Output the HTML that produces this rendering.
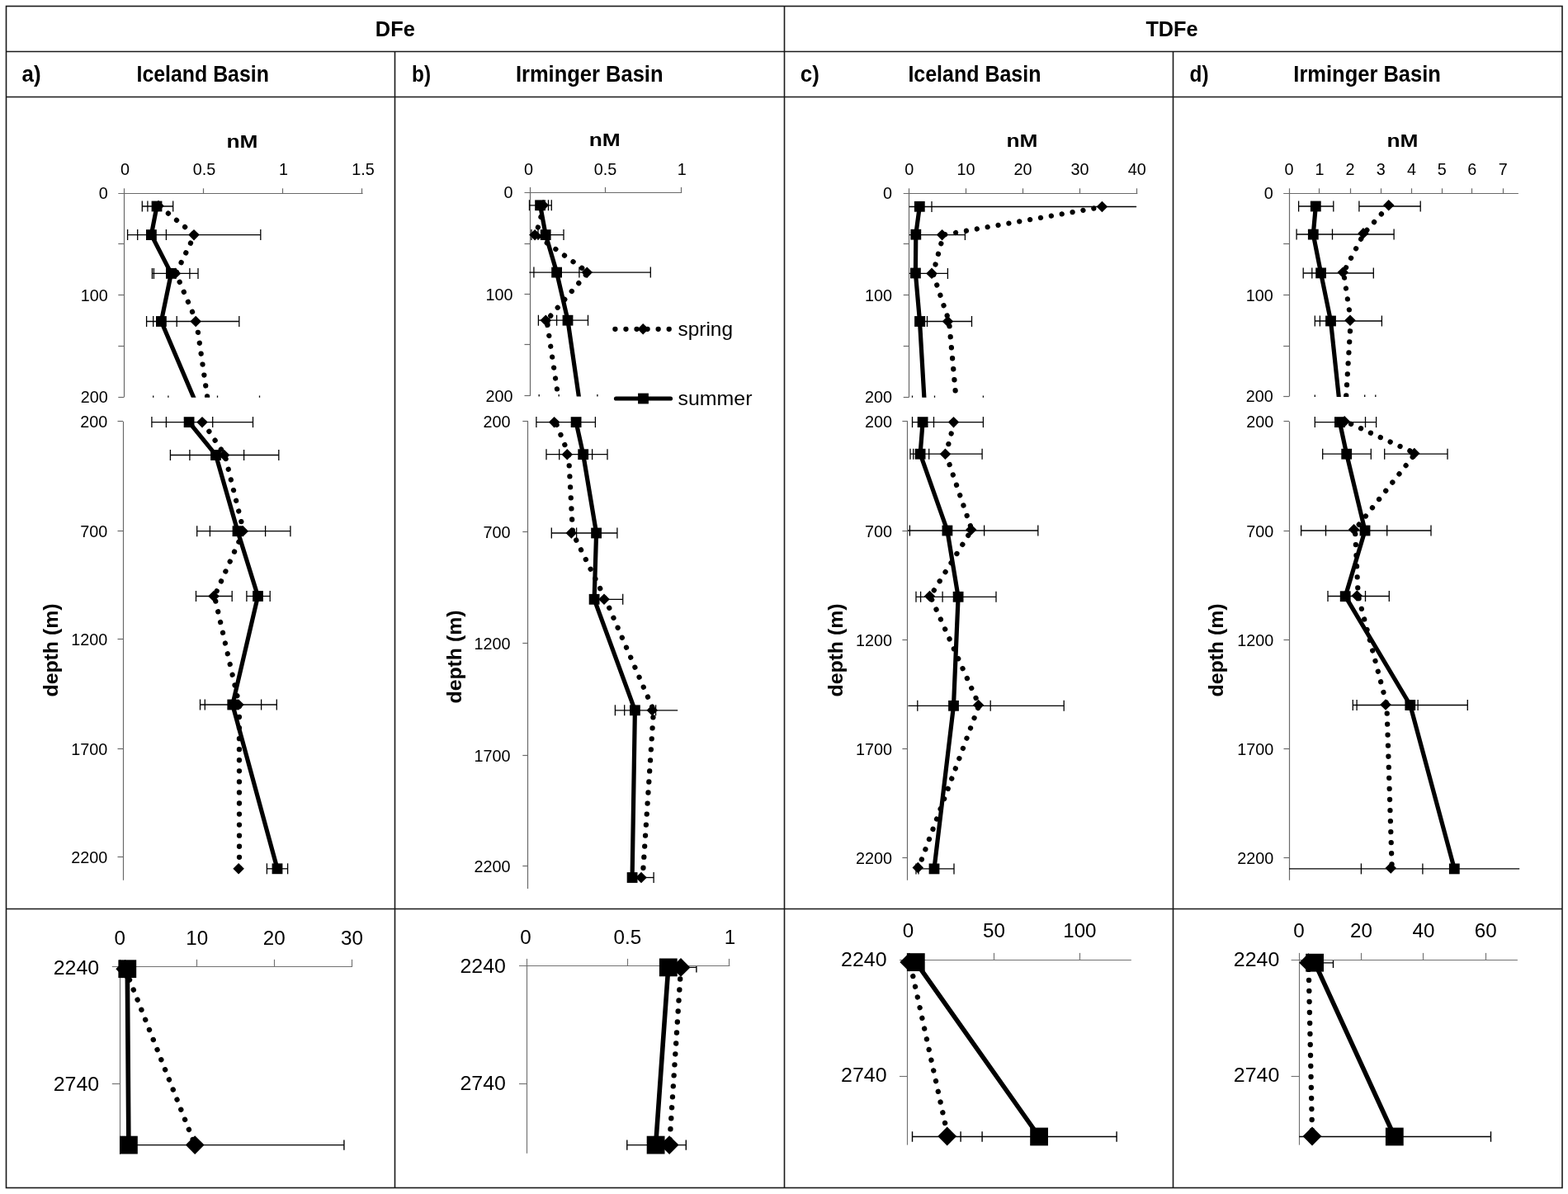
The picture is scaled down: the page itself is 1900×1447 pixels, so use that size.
<!DOCTYPE html>
<html lang="en">
<head>
<meta charset="utf-8">
<title>DFe and TDFe depth profiles</title>
<style>
html,body{margin:0;padding:0;background:#fff;}
body{width:1900px;height:1447px;overflow:hidden;}
svg{display:block;}
svg text{font-family:"Liberation Sans",sans-serif;fill:#000;}
</style>
</head>
<body>
<svg width="1900" height="1447" viewBox="0 0 1900 1447">
<rect x="0" y="0" width="1900" height="1447" fill="#fff"/>
<rect x="7.5" y="7.5" width="1885.5" height="1432.0" fill="none" stroke="#1a1a1a" stroke-width="1.6"/>
<line x1="7.5" y1="62.5" x2="1893.0" y2="62.5" stroke="#1a1a1a" stroke-width="1.6" />
<line x1="7.5" y1="117.5" x2="1893.0" y2="117.5" stroke="#1a1a1a" stroke-width="1.6" />
<line x1="7.5" y1="1101.5" x2="1893.0" y2="1101.5" stroke="#1a1a1a" stroke-width="1.6" />
<line x1="950.5" y1="7.5" x2="950.5" y2="1439.5" stroke="#1a1a1a" stroke-width="1.6" />
<line x1="478.5" y1="62.3" x2="478.5" y2="1439.5" stroke="#1a1a1a" stroke-width="1.6" />
<line x1="1421.5" y1="62.3" x2="1421.5" y2="1439.5" stroke="#1a1a1a" stroke-width="1.6" />
<text x="478.8" y="44.4" font-size="26.5" text-anchor="middle" font-weight="bold" textLength="48.0" lengthAdjust="spacingAndGlyphs" >DFe</text>
<text x="1420.0" y="44.4" font-size="26.5" text-anchor="middle" font-weight="bold" textLength="63.2" lengthAdjust="spacingAndGlyphs" >TDFe</text>
<text x="26.5" y="99.3" font-size="27.5" text-anchor="start" font-weight="bold" textLength="23.0" lengthAdjust="spacingAndGlyphs" >a)</text>
<text x="245.7" y="99.3" font-size="27.5" text-anchor="middle" font-weight="bold" textLength="160.4" lengthAdjust="spacingAndGlyphs" >Iceland Basin</text>
<text x="499.0" y="99.3" font-size="27.5" text-anchor="start" font-weight="bold" textLength="23.0" lengthAdjust="spacingAndGlyphs" >b)</text>
<text x="714.2" y="99.3" font-size="27.5" text-anchor="middle" font-weight="bold" textLength="178.6" lengthAdjust="spacingAndGlyphs" >Irminger Basin</text>
<text x="969.8" y="99.3" font-size="27.5" text-anchor="start" font-weight="bold" textLength="23.0" lengthAdjust="spacingAndGlyphs" >c)</text>
<text x="1180.9" y="99.3" font-size="27.5" text-anchor="middle" font-weight="bold" textLength="161.0" lengthAdjust="spacingAndGlyphs" >Iceland Basin</text>
<text x="1441.5" y="99.3" font-size="27.5" text-anchor="start" font-weight="bold" textLength="23.0" lengthAdjust="spacingAndGlyphs" >d)</text>
<text x="1656.6" y="99.3" font-size="27.5" text-anchor="middle" font-weight="bold" textLength="178.6" lengthAdjust="spacingAndGlyphs" >Irminger Basin</text>
<line x1="143.3" y1="234.5" x2="439.6" y2="234.5" stroke="#6a6a6a" stroke-width="1.2" />
<line x1="150.5" y1="228.3" x2="150.5" y2="481.2" stroke="#6a6a6a" stroke-width="1.2" />
<line x1="246.5" y1="228.3" x2="246.5" y2="234.6" stroke="#6a6a6a" stroke-width="1.2" />
<line x1="342.5" y1="228.3" x2="342.5" y2="234.6" stroke="#6a6a6a" stroke-width="1.2" />
<line x1="438.5" y1="228.3" x2="438.5" y2="234.6" stroke="#6a6a6a" stroke-width="1.2" />
<line x1="143.3" y1="295.5" x2="150.3" y2="295.5" stroke="#6a6a6a" stroke-width="1.2" />
<line x1="143.3" y1="357.5" x2="150.3" y2="357.5" stroke="#6a6a6a" stroke-width="1.2" />
<line x1="143.3" y1="419.5" x2="150.3" y2="419.5" stroke="#6a6a6a" stroke-width="1.2" />
<line x1="143.3" y1="481.5" x2="150.3" y2="481.5" stroke="#6a6a6a" stroke-width="1.2" />
<text x="151.4" y="212.0" font-size="19.8" text-anchor="middle" >0</text>
<text x="247.6" y="212.0" font-size="19.8" text-anchor="middle" >0.5</text>
<text x="343.6" y="212.0" font-size="19.8" text-anchor="middle" >1</text>
<text x="439.9" y="212.0" font-size="19.8" text-anchor="middle" >1.5</text>
<text x="130.8" y="240.5" font-size="19.8" text-anchor="end" >0</text>
<text x="130.8" y="364.8" font-size="19.8" text-anchor="end" >100</text>
<text x="130.8" y="488.1" font-size="19.8" text-anchor="end" >200</text>
<text x="293.5" y="178.5" font-size="22.8" text-anchor="middle" font-weight="bold" textLength="38.0" lengthAdjust="spacingAndGlyphs" >nM</text>
<clipPath id="c1"><rect x="148.3" y="234.6" width="291.3" height="247.2"/></clipPath>
<g clip-path="url(#c1)">
<line x1="172.3" y1="250.0" x2="209.7" y2="250.0" stroke="#000" stroke-width="1.3" />
<line x1="172.3" y1="243.5" x2="172.3" y2="256.5" stroke="#000" stroke-width="1.3" />
<line x1="178.9" y1="243.5" x2="178.9" y2="256.5" stroke="#000" stroke-width="1.3" />
<line x1="209.7" y1="243.5" x2="209.7" y2="256.5" stroke="#000" stroke-width="1.3" />
<line x1="154.6" y1="284.6" x2="315.8" y2="284.6" stroke="#000" stroke-width="1.3" />
<line x1="154.6" y1="278.1" x2="154.6" y2="291.1" stroke="#000" stroke-width="1.3" />
<line x1="166.7" y1="278.1" x2="166.7" y2="291.1" stroke="#000" stroke-width="1.3" />
<line x1="201.4" y1="278.1" x2="201.4" y2="291.1" stroke="#000" stroke-width="1.3" />
<line x1="315.8" y1="278.1" x2="315.8" y2="291.1" stroke="#000" stroke-width="1.3" />
<line x1="184.4" y1="331.4" x2="240.0" y2="331.4" stroke="#000" stroke-width="1.3" />
<line x1="184.4" y1="324.9" x2="184.4" y2="337.9" stroke="#000" stroke-width="1.3" />
<line x1="186.4" y1="324.9" x2="186.4" y2="337.9" stroke="#000" stroke-width="1.3" />
<line x1="229.9" y1="324.9" x2="229.9" y2="337.9" stroke="#000" stroke-width="1.3" />
<line x1="240.0" y1="324.9" x2="240.0" y2="337.9" stroke="#000" stroke-width="1.3" />
<line x1="177.6" y1="389.5" x2="289.8" y2="389.5" stroke="#000" stroke-width="1.3" />
<line x1="177.6" y1="383.0" x2="177.6" y2="396.0" stroke="#000" stroke-width="1.3" />
<line x1="185.7" y1="383.0" x2="185.7" y2="396.0" stroke="#000" stroke-width="1.3" />
<line x1="214.2" y1="383.0" x2="214.2" y2="396.0" stroke="#000" stroke-width="1.3" />
<line x1="289.8" y1="383.0" x2="289.8" y2="396.0" stroke="#000" stroke-width="1.3" />
<line x1="185.7" y1="479.4" x2="185.7" y2="484.2" stroke="#000" stroke-width="1.3" />
<line x1="203.9" y1="479.4" x2="203.9" y2="484.2" stroke="#000" stroke-width="1.3" />
<line x1="263.5" y1="479.4" x2="263.5" y2="484.2" stroke="#000" stroke-width="1.3" />
<line x1="314.5" y1="479.4" x2="314.5" y2="484.2" stroke="#000" stroke-width="1.3" />
<polyline points="192.8,249.5 235.8,284.6 213.2,331.4 238.0,389.5 251.6,484.0" fill="none" stroke="#000" stroke-width="6.3" stroke-linecap="round" stroke-linejoin="round" stroke-dasharray="0.01 13.05" stroke-dashoffset="-1.30"/>
<polyline points="190.0,250.0 183.4,284.6 207.4,331.4 195.4,389.5 235.6,484.0" fill="none" stroke="#000" stroke-width="5.2" stroke-linejoin="round" stroke-linecap="round"/>
<polygon points="185.2,249.5 192.0,242.8 198.8,249.5 192.0,256.2" fill="#000"/>
<polygon points="228.2,284.6 235.0,277.9 241.8,284.6 235.0,291.4" fill="#000"/>
<polygon points="205.7,331.4 212.4,324.6 219.2,331.4 212.4,338.1" fill="#000"/>
<polygon points="230.4,389.5 237.2,382.8 243.9,389.5 237.2,396.2" fill="#000"/>
<rect x="183.6" y="243.6" width="12.8" height="12.8" fill="#000"/>
<rect x="177.0" y="278.2" width="12.8" height="12.8" fill="#000"/>
<rect x="201.0" y="325.0" width="12.8" height="12.8" fill="#000"/>
<rect x="189.0" y="383.1" width="12.8" height="12.8" fill="#000"/>
</g>
<line x1="149.5" y1="510.8" x2="149.5" y2="1066.7" stroke="#6a6a6a" stroke-width="1.2" />
<line x1="142.5" y1="510.5" x2="149.0" y2="510.5" stroke="#6a6a6a" stroke-width="1.2" />
<text x="130.2" y="518.3" font-size="19.8" text-anchor="end" >200</text>
<line x1="142.5" y1="643.5" x2="149.0" y2="643.5" stroke="#6a6a6a" stroke-width="1.2" />
<text x="130.2" y="650.5" font-size="19.8" text-anchor="end" >700</text>
<line x1="142.5" y1="774.5" x2="149.0" y2="774.5" stroke="#6a6a6a" stroke-width="1.2" />
<text x="130.2" y="781.8" font-size="19.8" text-anchor="end" >1200</text>
<line x1="142.5" y1="907.5" x2="149.0" y2="907.5" stroke="#6a6a6a" stroke-width="1.2" />
<text x="130.2" y="914.5" font-size="19.8" text-anchor="end" >1700</text>
<line x1="142.5" y1="1038.5" x2="149.0" y2="1038.5" stroke="#6a6a6a" stroke-width="1.2" />
<text x="130.2" y="1046.0" font-size="19.8" text-anchor="end" >2200</text>
<line x1="183.9" y1="511.6" x2="306.5" y2="511.6" stroke="#000" stroke-width="1.3" />
<line x1="183.9" y1="505.1" x2="183.9" y2="518.1" stroke="#000" stroke-width="1.3" />
<line x1="201.4" y1="505.1" x2="201.4" y2="518.1" stroke="#000" stroke-width="1.3" />
<line x1="257.7" y1="505.1" x2="257.7" y2="518.1" stroke="#000" stroke-width="1.3" />
<line x1="306.5" y1="505.1" x2="306.5" y2="518.1" stroke="#000" stroke-width="1.3" />
<line x1="206.4" y1="551.5" x2="337.8" y2="551.5" stroke="#000" stroke-width="1.3" />
<line x1="206.4" y1="545.0" x2="206.4" y2="558.0" stroke="#000" stroke-width="1.3" />
<line x1="229.9" y1="545.0" x2="229.9" y2="558.0" stroke="#000" stroke-width="1.3" />
<line x1="295.6" y1="545.0" x2="295.6" y2="558.0" stroke="#000" stroke-width="1.3" />
<line x1="337.8" y1="545.0" x2="337.8" y2="558.0" stroke="#000" stroke-width="1.3" />
<line x1="238.7" y1="643.7" x2="351.9" y2="643.7" stroke="#000" stroke-width="1.3" />
<line x1="238.7" y1="637.2" x2="238.7" y2="650.2" stroke="#000" stroke-width="1.3" />
<line x1="254.4" y1="637.2" x2="254.4" y2="650.2" stroke="#000" stroke-width="1.3" />
<line x1="321.6" y1="637.2" x2="321.6" y2="650.2" stroke="#000" stroke-width="1.3" />
<line x1="351.9" y1="637.2" x2="351.9" y2="650.2" stroke="#000" stroke-width="1.3" />
<line x1="237.5" y1="722.5" x2="281.2" y2="722.5" stroke="#000" stroke-width="1.3" />
<line x1="237.5" y1="716.0" x2="237.5" y2="729.0" stroke="#000" stroke-width="1.3" />
<line x1="281.2" y1="716.0" x2="281.2" y2="729.0" stroke="#000" stroke-width="1.3" />
<line x1="298.9" y1="722.5" x2="327.2" y2="722.5" stroke="#000" stroke-width="1.3" />
<line x1="298.9" y1="716.0" x2="298.9" y2="729.0" stroke="#000" stroke-width="1.3" />
<line x1="327.2" y1="716.0" x2="327.2" y2="729.0" stroke="#000" stroke-width="1.3" />
<line x1="242.5" y1="854.0" x2="335.3" y2="854.0" stroke="#000" stroke-width="1.3" />
<line x1="242.5" y1="847.5" x2="242.5" y2="860.5" stroke="#000" stroke-width="1.3" />
<line x1="248.3" y1="847.5" x2="248.3" y2="860.5" stroke="#000" stroke-width="1.3" />
<line x1="316.6" y1="847.5" x2="316.6" y2="860.5" stroke="#000" stroke-width="1.3" />
<line x1="335.3" y1="847.5" x2="335.3" y2="860.5" stroke="#000" stroke-width="1.3" />
<line x1="323.4" y1="1052.8" x2="348.6" y2="1052.8" stroke="#000" stroke-width="1.3" />
<line x1="323.4" y1="1046.3" x2="323.4" y2="1059.3" stroke="#000" stroke-width="1.3" />
<line x1="348.6" y1="1046.3" x2="348.6" y2="1059.3" stroke="#000" stroke-width="1.3" />
<polyline points="245.9,511.6 272.5,551.5 295.2,643.7 259.9,722.5 289.9,854.0 290.0,1052.8" fill="none" stroke="#000" stroke-width="6.3" stroke-linecap="round" stroke-linejoin="round" stroke-dasharray="0.01 13.05" stroke-dashoffset="-0.40"/>
<polyline points="229.1,511.6 261.5,551.5 288.0,643.7 312.5,722.5 281.8,854.0 336.0,1052.8" fill="none" stroke="#000" stroke-width="5.2" stroke-linejoin="round" stroke-linecap="round"/>
<polygon points="238.2,511.6 245.0,504.9 251.8,511.6 245.0,518.4" fill="#000"/>
<polygon points="264.9,551.5 271.6,544.8 278.4,551.5 271.6,558.2" fill="#000"/>
<polygon points="287.6,643.7 294.3,637.0 301.1,643.7 294.3,650.5" fill="#000"/>
<polygon points="252.2,722.5 259.0,715.8 265.8,722.5 259.0,729.2" fill="#000"/>
<polygon points="282.2,854.0 289.0,847.2 295.8,854.0 289.0,860.8" fill="#000"/>
<polygon points="282.4,1052.8 289.1,1046.0 295.9,1052.8 289.1,1059.5" fill="#000"/>
<rect x="222.7" y="505.2" width="12.8" height="12.8" fill="#000"/>
<rect x="255.1" y="545.1" width="12.8" height="12.8" fill="#000"/>
<rect x="281.6" y="637.3" width="12.8" height="12.8" fill="#000"/>
<rect x="306.1" y="716.1" width="12.8" height="12.8" fill="#000"/>
<rect x="275.4" y="847.6" width="12.8" height="12.8" fill="#000"/>
<rect x="329.6" y="1046.4" width="12.8" height="12.8" fill="#000"/>
<text x="70.0" y="788.0" font-size="23.2" text-anchor="middle" font-weight="bold" textLength="113.0" lengthAdjust="spacingAndGlyphs" transform="rotate(-90 70.0 788.0)" >depth (m)</text>
<line x1="135.8" y1="1171.5" x2="427.0" y2="1171.5" stroke="#727272" stroke-width="1.15" />
<line x1="145.5" y1="1162.8" x2="145.5" y2="1399.0" stroke="#727272" stroke-width="1.15" />
<line x1="238.5" y1="1162.8" x2="238.5" y2="1171.8" stroke="#727272" stroke-width="1.15" />
<line x1="332.5" y1="1162.8" x2="332.5" y2="1171.8" stroke="#727272" stroke-width="1.15" />
<line x1="426.5" y1="1162.8" x2="426.5" y2="1171.8" stroke="#727272" stroke-width="1.15" />
<line x1="135.8" y1="1313.5" x2="145.3" y2="1313.5" stroke="#727272" stroke-width="1.15" />
<text x="145.3" y="1145.0" font-size="24.2" text-anchor="middle" >0</text>
<text x="238.7" y="1145.0" font-size="24.2" text-anchor="middle" >10</text>
<text x="332.2" y="1145.0" font-size="24.2" text-anchor="middle" >20</text>
<text x="426.5" y="1145.0" font-size="24.2" text-anchor="middle" >30</text>
<text x="120.2" y="1180.8" font-size="24.2" text-anchor="end" textLength="55.5" lengthAdjust="spacingAndGlyphs" >2240</text>
<text x="120.2" y="1322.1" font-size="24.2" text-anchor="end" textLength="55.5" lengthAdjust="spacingAndGlyphs" >2740</text>
<clipPath id="c2"><rect x="145.3" y="1171.8" width="291.7" height="247.2"/></clipPath>
<g clip-path="url(#c2)">
<line x1="155.9" y1="1387.6" x2="416.9" y2="1387.6" stroke="#000" stroke-width="1.4" />
<line x1="416.9" y1="1381.4" x2="416.9" y2="1393.8" stroke="#000" stroke-width="1.4" />
</g>
<polyline points="151.8,1174.3 236.3,1387.6" fill="none" stroke="#000" stroke-width="6.4" stroke-linecap="round" stroke-linejoin="round" stroke-dasharray="0.01 13" stroke-dashoffset="-1.15"/>
<polyline points="154.3,1174.2 155.9,1387.6" fill="none" stroke="#000" stroke-width="5.6" stroke-linejoin="round" stroke-linecap="round"/>
<polygon points="140.3,1174.3 151.7,1162.9 163.1,1174.3 151.7,1185.7" fill="#000"/>
<polygon points="224.8,1387.6 236.2,1376.2 247.6,1387.6 236.2,1399.0" fill="#000"/>
<rect x="143.4" y="1163.3" width="21.8" height="21.8" fill="#000"/>
<rect x="145.0" y="1376.7" width="21.8" height="21.8" fill="#000"/>
<line x1="635.5" y1="233.5" x2="826.2" y2="233.5" stroke="#6a6a6a" stroke-width="1.2" />
<line x1="642.5" y1="226.9" x2="642.5" y2="479.9" stroke="#6a6a6a" stroke-width="1.2" />
<line x1="733.5" y1="226.9" x2="733.5" y2="233.2" stroke="#6a6a6a" stroke-width="1.2" />
<line x1="825.5" y1="226.9" x2="825.5" y2="233.2" stroke="#6a6a6a" stroke-width="1.2" />
<line x1="635.5" y1="295.5" x2="642.5" y2="295.5" stroke="#6a6a6a" stroke-width="1.2" />
<line x1="635.5" y1="356.5" x2="642.5" y2="356.5" stroke="#6a6a6a" stroke-width="1.2" />
<line x1="635.5" y1="417.5" x2="642.5" y2="417.5" stroke="#6a6a6a" stroke-width="1.2" />
<line x1="635.5" y1="479.5" x2="642.5" y2="479.5" stroke="#6a6a6a" stroke-width="1.2" />
<text x="640.5" y="211.7" font-size="19.8" text-anchor="middle" >0</text>
<text x="733.5" y="211.7" font-size="19.8" text-anchor="middle" >0.5</text>
<text x="826.2" y="211.7" font-size="19.8" text-anchor="middle" >1</text>
<text x="621.5" y="239.7" font-size="19.8" text-anchor="end" >0</text>
<text x="621.5" y="363.5" font-size="19.8" text-anchor="end" >100</text>
<text x="621.5" y="486.8" font-size="19.8" text-anchor="end" >200</text>
<text x="732.7" y="177.3" font-size="22.8" text-anchor="middle" font-weight="bold" textLength="38.0" lengthAdjust="spacingAndGlyphs" >nM</text>
<clipPath id="c3"><rect x="640.5" y="233.2" width="185.7" height="247.3"/></clipPath>
<g clip-path="url(#c3)">
<line x1="641.3" y1="248.8" x2="668.3" y2="248.8" stroke="#000" stroke-width="1.3" />
<line x1="641.3" y1="242.3" x2="641.3" y2="255.3" stroke="#000" stroke-width="1.3" />
<line x1="664.5" y1="242.3" x2="664.5" y2="255.3" stroke="#000" stroke-width="1.3" />
<line x1="668.3" y1="242.3" x2="668.3" y2="255.3" stroke="#000" stroke-width="1.3" />
<line x1="641.5" y1="284.6" x2="683.0" y2="284.6" stroke="#000" stroke-width="1.3" />
<line x1="644.0" y1="278.1" x2="644.0" y2="291.1" stroke="#000" stroke-width="1.3" />
<line x1="652.0" y1="278.1" x2="652.0" y2="291.1" stroke="#000" stroke-width="1.3" />
<line x1="683.0" y1="278.1" x2="683.0" y2="291.1" stroke="#000" stroke-width="1.3" />
<line x1="641.3" y1="330.1" x2="788.3" y2="330.1" stroke="#000" stroke-width="1.3" />
<line x1="646.9" y1="323.6" x2="646.9" y2="336.6" stroke="#000" stroke-width="1.3" />
<line x1="701.9" y1="323.6" x2="701.9" y2="336.6" stroke="#000" stroke-width="1.3" />
<line x1="788.3" y1="323.6" x2="788.3" y2="336.6" stroke="#000" stroke-width="1.3" />
<line x1="652.4" y1="388.2" x2="712.5" y2="388.2" stroke="#000" stroke-width="1.3" />
<line x1="652.4" y1="381.7" x2="652.4" y2="394.7" stroke="#000" stroke-width="1.3" />
<line x1="665.8" y1="381.7" x2="665.8" y2="394.7" stroke="#000" stroke-width="1.3" />
<line x1="674.6" y1="381.7" x2="674.6" y2="394.7" stroke="#000" stroke-width="1.3" />
<line x1="712.5" y1="381.7" x2="712.5" y2="394.7" stroke="#000" stroke-width="1.3" />
<line x1="653.2" y1="478.1" x2="653.2" y2="482.9" stroke="#000" stroke-width="1.3" />
<line x1="677.2" y1="478.1" x2="677.2" y2="482.9" stroke="#000" stroke-width="1.3" />
<line x1="723.9" y1="478.1" x2="723.9" y2="482.9" stroke="#000" stroke-width="1.3" />
<polyline points="659.4,248.8 649.3,284.6 712.5,330.1 662.5,388.2 676.7,483.0" fill="none" stroke="#000" stroke-width="6.3" stroke-linecap="round" stroke-linejoin="round" stroke-dasharray="0.01 13.05" stroke-dashoffset="-1.60"/>
<polyline points="654.6,248.8 661.2,284.6 674.6,330.1 688.0,388.2 701.7,483.0" fill="none" stroke="#000" stroke-width="5.2" stroke-linejoin="round" stroke-linecap="round"/>
<polygon points="651.5,248.8 658.2,242.1 665.0,248.8 658.2,255.6" fill="#000"/>
<polygon points="641.4,284.6 648.1,277.9 654.9,284.6 648.1,291.4" fill="#000"/>
<polygon points="704.5,330.1 711.3,323.4 718.0,330.1 711.3,336.9" fill="#000"/>
<polygon points="654.5,388.2 661.3,381.4 668.0,388.2 661.3,394.9" fill="#000"/>
<rect x="648.2" y="242.4" width="12.8" height="12.8" fill="#000"/>
<rect x="654.8" y="278.2" width="12.8" height="12.8" fill="#000"/>
<rect x="668.2" y="323.7" width="12.8" height="12.8" fill="#000"/>
<rect x="681.6" y="381.8" width="12.8" height="12.8" fill="#000"/>
</g>
<line x1="639.5" y1="510.3" x2="639.5" y2="1076.9" stroke="#6a6a6a" stroke-width="1.2" />
<line x1="633.3" y1="510.5" x2="639.8" y2="510.5" stroke="#6a6a6a" stroke-width="1.2" />
<text x="618.5" y="517.8" font-size="19.8" text-anchor="end" >200</text>
<line x1="633.3" y1="644.5" x2="639.8" y2="644.5" stroke="#6a6a6a" stroke-width="1.2" />
<text x="618.5" y="652.2" font-size="19.8" text-anchor="end" >700</text>
<line x1="633.3" y1="779.5" x2="639.8" y2="779.5" stroke="#6a6a6a" stroke-width="1.2" />
<text x="618.5" y="787.4" font-size="19.8" text-anchor="end" >1200</text>
<line x1="633.3" y1="915.5" x2="639.8" y2="915.5" stroke="#6a6a6a" stroke-width="1.2" />
<text x="618.5" y="922.7" font-size="19.8" text-anchor="end" >1700</text>
<line x1="633.3" y1="1049.5" x2="639.8" y2="1049.5" stroke="#6a6a6a" stroke-width="1.2" />
<text x="618.5" y="1056.6" font-size="19.8" text-anchor="end" >2200</text>
<line x1="649.9" y1="511.6" x2="721.4" y2="511.6" stroke="#000" stroke-width="1.3" />
<line x1="649.9" y1="505.1" x2="649.9" y2="518.1" stroke="#000" stroke-width="1.3" />
<line x1="721.4" y1="505.1" x2="721.4" y2="518.1" stroke="#000" stroke-width="1.3" />
<line x1="662.0" y1="550.7" x2="736.0" y2="550.7" stroke="#000" stroke-width="1.3" />
<line x1="662.0" y1="544.2" x2="662.0" y2="557.2" stroke="#000" stroke-width="1.3" />
<line x1="677.7" y1="544.2" x2="677.7" y2="557.2" stroke="#000" stroke-width="1.3" />
<line x1="717.6" y1="544.2" x2="717.6" y2="557.2" stroke="#000" stroke-width="1.3" />
<line x1="736.0" y1="544.2" x2="736.0" y2="557.2" stroke="#000" stroke-width="1.3" />
<line x1="668.3" y1="646.0" x2="747.9" y2="646.0" stroke="#000" stroke-width="1.3" />
<line x1="668.3" y1="639.5" x2="668.3" y2="652.5" stroke="#000" stroke-width="1.3" />
<line x1="698.6" y1="639.5" x2="698.6" y2="652.5" stroke="#000" stroke-width="1.3" />
<line x1="747.9" y1="639.5" x2="747.9" y2="652.5" stroke="#000" stroke-width="1.3" />
<line x1="720.0" y1="726.3" x2="754.7" y2="726.3" stroke="#000" stroke-width="1.3" />
<line x1="754.7" y1="719.8" x2="754.7" y2="732.8" stroke="#000" stroke-width="1.3" />
<line x1="745.4" y1="860.8" x2="821.2" y2="860.8" stroke="#000" stroke-width="1.3" />
<line x1="745.4" y1="854.3" x2="745.4" y2="867.3" stroke="#000" stroke-width="1.3" />
<line x1="756.7" y1="854.3" x2="756.7" y2="867.3" stroke="#000" stroke-width="1.3" />
<line x1="794.6" y1="854.3" x2="794.6" y2="867.3" stroke="#000" stroke-width="1.3" />
<line x1="766.0" y1="1063.5" x2="792.1" y2="1063.5" stroke="#000" stroke-width="1.3" />
<line x1="792.1" y1="1057.0" x2="792.1" y2="1070.0" stroke="#000" stroke-width="1.3" />
<polyline points="673.3,511.6 689.0,550.7 694.0,646.0 733.7,726.3 792.0,860.8 778.7,1063.5" fill="none" stroke="#000" stroke-width="6.3" stroke-linecap="round" stroke-linejoin="round" stroke-dasharray="0.01 13.05" stroke-dashoffset="-3.50"/>
<polyline points="698.1,511.6 706.7,550.7 722.6,646.0 720.1,726.3 769.4,860.8 766.1,1063.5" fill="none" stroke="#000" stroke-width="5.2" stroke-linejoin="round" stroke-linecap="round"/>
<polygon points="664.9,511.6 671.6,504.9 678.4,511.6 671.6,518.4" fill="#000"/>
<polygon points="680.5,550.7 687.3,544.0 694.0,550.7 687.3,557.5" fill="#000"/>
<polygon points="685.5,646.0 692.3,639.2 699.0,646.0 692.3,652.8" fill="#000"/>
<polygon points="725.2,726.3 732.0,719.5 738.8,726.3 732.0,733.0" fill="#000"/>
<polygon points="783.5,860.8 790.3,854.0 797.0,860.8 790.3,867.5" fill="#000"/>
<polygon points="770.2,1063.5 777.0,1056.8 783.8,1063.5 777.0,1070.2" fill="#000"/>
<rect x="691.7" y="505.2" width="12.8" height="12.8" fill="#000"/>
<rect x="700.3" y="544.3" width="12.8" height="12.8" fill="#000"/>
<rect x="716.2" y="639.6" width="12.8" height="12.8" fill="#000"/>
<rect x="713.7" y="719.9" width="12.8" height="12.8" fill="#000"/>
<rect x="763.0" y="854.4" width="12.8" height="12.8" fill="#000"/>
<rect x="759.7" y="1057.1" width="12.8" height="12.8" fill="#000"/>
<text x="559.0" y="796.0" font-size="23.2" text-anchor="middle" font-weight="bold" textLength="113.0" lengthAdjust="spacingAndGlyphs" transform="rotate(-90 559.0 796.0)" >depth (m)</text>
<line x1="629.0" y1="1170.5" x2="884.3" y2="1170.5" stroke="#727272" stroke-width="1.15" />
<line x1="638.5" y1="1161.9" x2="638.5" y2="1397.8" stroke="#727272" stroke-width="1.15" />
<line x1="760.5" y1="1161.9" x2="760.5" y2="1170.9" stroke="#727272" stroke-width="1.15" />
<line x1="883.5" y1="1161.9" x2="883.5" y2="1170.9" stroke="#727272" stroke-width="1.15" />
<line x1="629.0" y1="1313.5" x2="638.5" y2="1313.5" stroke="#727272" stroke-width="1.15" />
<text x="637.0" y="1144.0" font-size="24.2" text-anchor="middle" >0</text>
<text x="760.3" y="1144.0" font-size="24.2" text-anchor="middle" >0.5</text>
<text x="884.5" y="1144.0" font-size="24.2" text-anchor="middle" >1</text>
<text x="613.0" y="1179.1" font-size="24.2" text-anchor="end" textLength="55.5" lengthAdjust="spacingAndGlyphs" >2240</text>
<text x="613.0" y="1321.3" font-size="24.2" text-anchor="end" textLength="55.5" lengthAdjust="spacingAndGlyphs" >2740</text>
<clipPath id="c4"><rect x="638.5" y="1170.9" width="255.8" height="246.9"/></clipPath>
<g clip-path="url(#c4)">
<line x1="825.0" y1="1172.4" x2="843.9" y2="1172.4" stroke="#000" stroke-width="1.4" />
<line x1="843.9" y1="1166.2" x2="843.9" y2="1178.6" stroke="#000" stroke-width="1.4" />
<line x1="759.8" y1="1387.6" x2="831.3" y2="1387.6" stroke="#000" stroke-width="1.4" />
<line x1="759.8" y1="1381.4" x2="759.8" y2="1393.8" stroke="#000" stroke-width="1.4" />
<line x1="831.3" y1="1381.4" x2="831.3" y2="1393.8" stroke="#000" stroke-width="1.4" />
</g>
<polyline points="825.1,1172.4 811.2,1387.6" fill="none" stroke="#000" stroke-width="6.4" stroke-linecap="round" stroke-linejoin="round" stroke-dasharray="0.01 13" stroke-dashoffset="-1.15"/>
<polyline points="809.8,1172.4 794.6,1387.6" fill="none" stroke="#000" stroke-width="5.6" stroke-linejoin="round" stroke-linecap="round"/>
<polygon points="813.6,1172.4 825.0,1161.0 836.4,1172.4 825.0,1183.8" fill="#000"/>
<polygon points="799.7,1387.6 811.1,1376.2 822.5,1387.6 811.1,1399.0" fill="#000"/>
<rect x="798.9" y="1161.5" width="21.8" height="21.8" fill="#000"/>
<rect x="783.7" y="1376.7" width="21.8" height="21.8" fill="#000"/>
<line x1="1094.7" y1="234.5" x2="1378.3" y2="234.5" stroke="#6a6a6a" stroke-width="1.2" />
<line x1="1101.5" y1="228.3" x2="1101.5" y2="481.2" stroke="#6a6a6a" stroke-width="1.2" />
<line x1="1170.5" y1="228.3" x2="1170.5" y2="234.6" stroke="#6a6a6a" stroke-width="1.2" />
<line x1="1239.5" y1="228.3" x2="1239.5" y2="234.6" stroke="#6a6a6a" stroke-width="1.2" />
<line x1="1308.5" y1="228.3" x2="1308.5" y2="234.6" stroke="#6a6a6a" stroke-width="1.2" />
<line x1="1377.5" y1="228.3" x2="1377.5" y2="234.6" stroke="#6a6a6a" stroke-width="1.2" />
<line x1="1094.7" y1="295.5" x2="1101.7" y2="295.5" stroke="#6a6a6a" stroke-width="1.2" />
<line x1="1094.7" y1="357.5" x2="1101.7" y2="357.5" stroke="#6a6a6a" stroke-width="1.2" />
<line x1="1094.7" y1="419.5" x2="1101.7" y2="419.5" stroke="#6a6a6a" stroke-width="1.2" />
<line x1="1094.7" y1="481.5" x2="1101.7" y2="481.5" stroke="#6a6a6a" stroke-width="1.2" />
<text x="1101.7" y="212.1" font-size="19.8" text-anchor="middle" >0</text>
<text x="1170.4" y="212.1" font-size="19.8" text-anchor="middle" >10</text>
<text x="1239.4" y="212.1" font-size="19.8" text-anchor="middle" >20</text>
<text x="1308.4" y="212.1" font-size="19.8" text-anchor="middle" >30</text>
<text x="1377.8" y="212.1" font-size="19.8" text-anchor="middle" >40</text>
<text x="1080.9" y="241.0" font-size="19.8" text-anchor="end" >0</text>
<text x="1080.9" y="364.8" font-size="19.8" text-anchor="end" >100</text>
<text x="1080.9" y="488.1" font-size="19.8" text-anchor="end" >200</text>
<text x="1238.5" y="177.9" font-size="22.8" text-anchor="middle" font-weight="bold" textLength="38.0" lengthAdjust="spacingAndGlyphs" >nM</text>
<clipPath id="c5"><rect x="1099.7" y="234.6" width="278.6" height="247.2"/></clipPath>
<g clip-path="url(#c5)">
<line x1="1101.7" y1="250.5" x2="1377.1" y2="250.5" stroke="#000" stroke-width="1.3" />
<line x1="1129.0" y1="244.0" x2="1129.0" y2="257.0" stroke="#000" stroke-width="1.3" />
<line x1="1101.7" y1="284.6" x2="1169.4" y2="284.6" stroke="#000" stroke-width="1.3" />
<line x1="1169.4" y1="278.1" x2="1169.4" y2="291.1" stroke="#000" stroke-width="1.3" />
<line x1="1101.7" y1="331.4" x2="1148.4" y2="331.4" stroke="#000" stroke-width="1.3" />
<line x1="1148.4" y1="324.9" x2="1148.4" y2="337.9" stroke="#000" stroke-width="1.3" />
<line x1="1110.0" y1="389.5" x2="1177.5" y2="389.5" stroke="#000" stroke-width="1.3" />
<line x1="1120.5" y1="383.0" x2="1120.5" y2="396.0" stroke="#000" stroke-width="1.3" />
<line x1="1123.5" y1="383.0" x2="1123.5" y2="396.0" stroke="#000" stroke-width="1.3" />
<line x1="1177.5" y1="383.0" x2="1177.5" y2="396.0" stroke="#000" stroke-width="1.3" />
<line x1="1105.5" y1="479.4" x2="1105.5" y2="484.2" stroke="#000" stroke-width="1.3" />
<line x1="1132.5" y1="479.4" x2="1132.5" y2="484.2" stroke="#000" stroke-width="1.3" />
<line x1="1191.4" y1="479.4" x2="1191.4" y2="484.2" stroke="#000" stroke-width="1.3" />
<polyline points="1337.0,250.5 1143.2,284.6 1130.6,331.4 1150.0,389.5 1158.6,484.0" fill="none" stroke="#000" stroke-width="6.3" stroke-linecap="round" stroke-linejoin="round" stroke-dasharray="0.01 13.05" stroke-dashoffset="1.20"/>
<polyline points="1114.3,250.3 1109.8,284.2 1109.4,331.0 1114.5,389.5 1120.0,484.0" fill="none" stroke="#000" stroke-width="5.2" stroke-linejoin="round" stroke-linecap="round"/>
<polygon points="1328.7,250.5 1335.4,243.8 1342.2,250.5 1335.4,257.2" fill="#000"/>
<polygon points="1134.8,284.6 1141.6,277.9 1148.3,284.6 1141.6,291.4" fill="#000"/>
<polygon points="1122.2,331.4 1129.0,324.6 1135.8,331.4 1129.0,338.1" fill="#000"/>
<polygon points="1141.7,389.5 1148.4,382.8 1155.2,389.5 1148.4,396.2" fill="#000"/>
<rect x="1107.9" y="243.9" width="12.8" height="12.8" fill="#000"/>
<rect x="1103.4" y="277.8" width="12.8" height="12.8" fill="#000"/>
<rect x="1103.0" y="324.6" width="12.8" height="12.8" fill="#000"/>
<rect x="1108.1" y="383.1" width="12.8" height="12.8" fill="#000"/>
</g>
<line x1="1099.5" y1="510.8" x2="1099.5" y2="1066.7" stroke="#6a6a6a" stroke-width="1.2" />
<line x1="1093.4" y1="510.5" x2="1099.9" y2="510.5" stroke="#6a6a6a" stroke-width="1.2" />
<text x="1081.1" y="518.3" font-size="19.8" text-anchor="end" >200</text>
<line x1="1093.4" y1="643.5" x2="1099.9" y2="643.5" stroke="#6a6a6a" stroke-width="1.2" />
<text x="1081.1" y="650.5" font-size="19.8" text-anchor="end" >700</text>
<line x1="1093.4" y1="775.5" x2="1099.9" y2="775.5" stroke="#6a6a6a" stroke-width="1.2" />
<text x="1081.1" y="782.6" font-size="19.8" text-anchor="end" >1200</text>
<line x1="1093.4" y1="907.5" x2="1099.9" y2="907.5" stroke="#6a6a6a" stroke-width="1.2" />
<text x="1081.1" y="914.6" font-size="19.8" text-anchor="end" >1700</text>
<line x1="1093.4" y1="1039.5" x2="1099.9" y2="1039.5" stroke="#6a6a6a" stroke-width="1.2" />
<text x="1081.1" y="1047.2" font-size="19.8" text-anchor="end" >2200</text>
<line x1="1105.5" y1="511.6" x2="1191.4" y2="511.6" stroke="#000" stroke-width="1.3" />
<line x1="1105.5" y1="505.1" x2="1105.5" y2="518.1" stroke="#000" stroke-width="1.3" />
<line x1="1131.5" y1="505.1" x2="1131.5" y2="518.1" stroke="#000" stroke-width="1.3" />
<line x1="1191.4" y1="505.1" x2="1191.4" y2="518.1" stroke="#000" stroke-width="1.3" />
<line x1="1103.0" y1="550.2" x2="1190.1" y2="550.2" stroke="#000" stroke-width="1.3" />
<line x1="1103.0" y1="543.7" x2="1103.0" y2="556.7" stroke="#000" stroke-width="1.3" />
<line x1="1106.7" y1="543.7" x2="1106.7" y2="556.7" stroke="#000" stroke-width="1.3" />
<line x1="1125.7" y1="543.7" x2="1125.7" y2="556.7" stroke="#000" stroke-width="1.3" />
<line x1="1190.1" y1="543.7" x2="1190.1" y2="556.7" stroke="#000" stroke-width="1.3" />
<line x1="1100.0" y1="643.0" x2="1257.8" y2="643.0" stroke="#000" stroke-width="1.3" />
<line x1="1102.4" y1="636.5" x2="1102.4" y2="649.5" stroke="#000" stroke-width="1.3" />
<line x1="1192.6" y1="636.5" x2="1192.6" y2="649.5" stroke="#000" stroke-width="1.3" />
<line x1="1257.8" y1="636.5" x2="1257.8" y2="649.5" stroke="#000" stroke-width="1.3" />
<line x1="1110.0" y1="723.3" x2="1207.0" y2="723.3" stroke="#000" stroke-width="1.3" />
<line x1="1110.0" y1="716.8" x2="1110.0" y2="729.8" stroke="#000" stroke-width="1.3" />
<line x1="1115.6" y1="716.8" x2="1115.6" y2="729.8" stroke="#000" stroke-width="1.3" />
<line x1="1142.1" y1="716.8" x2="1142.1" y2="729.8" stroke="#000" stroke-width="1.3" />
<line x1="1207.0" y1="716.8" x2="1207.0" y2="729.8" stroke="#000" stroke-width="1.3" />
<line x1="1100.4" y1="855.3" x2="1289.2" y2="855.3" stroke="#000" stroke-width="1.3" />
<line x1="1111.8" y1="848.8" x2="1111.8" y2="861.8" stroke="#000" stroke-width="1.3" />
<line x1="1200.2" y1="848.8" x2="1200.2" y2="861.8" stroke="#000" stroke-width="1.3" />
<line x1="1289.2" y1="848.8" x2="1289.2" y2="861.8" stroke="#000" stroke-width="1.3" />
<line x1="1110.0" y1="1052.9" x2="1156.0" y2="1052.9" stroke="#000" stroke-width="1.3" />
<line x1="1110.0" y1="1046.4" x2="1110.0" y2="1059.4" stroke="#000" stroke-width="1.3" />
<line x1="1113.0" y1="1046.4" x2="1113.0" y2="1059.4" stroke="#000" stroke-width="1.3" />
<line x1="1156.0" y1="1046.4" x2="1156.0" y2="1059.4" stroke="#000" stroke-width="1.3" />
<polyline points="1156.3,511.6 1146.2,550.2 1177.5,642.0 1127.3,722.5 1186.4,854.5 1113.1,1051.6" fill="none" stroke="#000" stroke-width="6.3" stroke-linecap="round" stroke-linejoin="round" stroke-dasharray="0.01 13.05" stroke-dashoffset="-1.30"/>
<polyline points="1118.1,511.6 1115.1,550.2 1147.9,643.0 1161.1,723.3 1155.5,855.3 1132.0,1052.9" fill="none" stroke="#000" stroke-width="5.2" stroke-linejoin="round" stroke-linecap="round"/>
<polygon points="1148.8,511.6 1155.5,504.9 1162.2,511.6 1155.5,518.4" fill="#000"/>
<polygon points="1138.7,550.2 1145.4,543.5 1152.2,550.2 1145.4,557.0" fill="#000"/>
<polygon points="1170.0,642.0 1176.7,635.2 1183.5,642.0 1176.7,648.8" fill="#000"/>
<polygon points="1119.8,722.5 1126.5,715.8 1133.2,722.5 1126.5,729.2" fill="#000"/>
<polygon points="1178.8,854.5 1185.6,847.8 1192.3,854.5 1185.6,861.2" fill="#000"/>
<polygon points="1105.5,1051.6 1112.3,1044.8 1119.0,1051.6 1112.3,1058.3" fill="#000"/>
<rect x="1111.7" y="505.2" width="12.8" height="12.8" fill="#000"/>
<rect x="1108.7" y="543.8" width="12.8" height="12.8" fill="#000"/>
<rect x="1141.5" y="636.6" width="12.8" height="12.8" fill="#000"/>
<rect x="1154.7" y="716.9" width="12.8" height="12.8" fill="#000"/>
<rect x="1149.1" y="848.9" width="12.8" height="12.8" fill="#000"/>
<rect x="1125.6" y="1046.5" width="12.8" height="12.8" fill="#000"/>
<text x="1021.0" y="788.0" font-size="23.2" text-anchor="middle" font-weight="bold" textLength="113.0" lengthAdjust="spacingAndGlyphs" transform="rotate(-90 1021.0 788.0)" >depth (m)</text>
<line x1="1090.0" y1="1163.5" x2="1370.8" y2="1163.5" stroke="#727272" stroke-width="1.15" />
<line x1="1099.5" y1="1154.9" x2="1099.5" y2="1387.6" stroke="#727272" stroke-width="1.15" />
<line x1="1204.5" y1="1154.9" x2="1204.5" y2="1163.9" stroke="#727272" stroke-width="1.15" />
<line x1="1308.5" y1="1154.9" x2="1308.5" y2="1163.9" stroke="#727272" stroke-width="1.15" />
<line x1="1090.0" y1="1304.5" x2="1099.5" y2="1304.5" stroke="#727272" stroke-width="1.15" />
<text x="1100.5" y="1135.6" font-size="24.2" text-anchor="middle" >0</text>
<text x="1204.5" y="1135.6" font-size="24.2" text-anchor="middle" >50</text>
<text x="1308.4" y="1135.6" font-size="24.2" text-anchor="middle" >100</text>
<text x="1074.6" y="1170.7" font-size="24.2" text-anchor="end" textLength="55.5" lengthAdjust="spacingAndGlyphs" >2240</text>
<text x="1074.6" y="1311.4" font-size="24.2" text-anchor="end" textLength="55.5" lengthAdjust="spacingAndGlyphs" >2740</text>
<clipPath id="c6"><rect x="1099.5" y="1163.9" width="281.3" height="243.7"/></clipPath>
<g clip-path="url(#c6)">
<line x1="1105.5" y1="1377.5" x2="1353.1" y2="1377.5" stroke="#000" stroke-width="1.4" />
<line x1="1105.5" y1="1371.3" x2="1105.5" y2="1383.7" stroke="#000" stroke-width="1.4" />
<line x1="1164.1" y1="1371.3" x2="1164.1" y2="1383.7" stroke="#000" stroke-width="1.4" />
<line x1="1190.1" y1="1371.3" x2="1190.1" y2="1383.7" stroke="#000" stroke-width="1.4" />
<line x1="1353.1" y1="1371.3" x2="1353.1" y2="1383.7" stroke="#000" stroke-width="1.4" />
</g>
<polyline points="1102.6,1166.1 1148.6,1377.0" fill="none" stroke="#000" stroke-width="6.4" stroke-linecap="round" stroke-linejoin="round" stroke-dasharray="0.01 13" stroke-dashoffset="-4.30"/>
<polyline points="1109.8,1166.1 1259.1,1377.5" fill="none" stroke="#000" stroke-width="5.6" stroke-linejoin="round" stroke-linecap="round"/>
<polygon points="1090.3,1166.1 1101.7,1154.7 1113.1,1166.1 1101.7,1177.5" fill="#000"/>
<polygon points="1136.3,1377.0 1147.7,1365.6 1159.1,1377.0 1147.7,1388.4" fill="#000"/>
<rect x="1098.9" y="1155.2" width="21.8" height="21.8" fill="#000"/>
<rect x="1248.2" y="1366.6" width="21.8" height="21.8" fill="#000"/>
<line x1="1555.2" y1="234.5" x2="1839.9" y2="234.5" stroke="#6a6a6a" stroke-width="1.2" />
<line x1="1562.5" y1="228.3" x2="1562.5" y2="480.4" stroke="#6a6a6a" stroke-width="1.2" />
<line x1="1598.5" y1="228.3" x2="1598.5" y2="234.6" stroke="#6a6a6a" stroke-width="1.2" />
<line x1="1636.5" y1="228.3" x2="1636.5" y2="234.6" stroke="#6a6a6a" stroke-width="1.2" />
<line x1="1673.5" y1="228.3" x2="1673.5" y2="234.6" stroke="#6a6a6a" stroke-width="1.2" />
<line x1="1710.5" y1="228.3" x2="1710.5" y2="234.6" stroke="#6a6a6a" stroke-width="1.2" />
<line x1="1747.5" y1="228.3" x2="1747.5" y2="234.6" stroke="#6a6a6a" stroke-width="1.2" />
<line x1="1783.5" y1="228.3" x2="1783.5" y2="234.6" stroke="#6a6a6a" stroke-width="1.2" />
<line x1="1821.5" y1="228.3" x2="1821.5" y2="234.6" stroke="#6a6a6a" stroke-width="1.2" />
<line x1="1555.2" y1="295.5" x2="1562.2" y2="295.5" stroke="#6a6a6a" stroke-width="1.2" />
<line x1="1555.2" y1="357.5" x2="1562.2" y2="357.5" stroke="#6a6a6a" stroke-width="1.2" />
<line x1="1555.2" y1="419.5" x2="1562.2" y2="419.5" stroke="#6a6a6a" stroke-width="1.2" />
<line x1="1555.2" y1="480.5" x2="1562.2" y2="480.5" stroke="#6a6a6a" stroke-width="1.2" />
<text x="1562.0" y="212.1" font-size="19.8" text-anchor="middle" >0</text>
<text x="1598.9" y="212.1" font-size="19.8" text-anchor="middle" >1</text>
<text x="1636.0" y="212.1" font-size="19.8" text-anchor="middle" >2</text>
<text x="1673.2" y="212.1" font-size="19.8" text-anchor="middle" >3</text>
<text x="1710.5" y="212.1" font-size="19.8" text-anchor="middle" >4</text>
<text x="1747.2" y="212.1" font-size="19.8" text-anchor="middle" >5</text>
<text x="1783.8" y="212.1" font-size="19.8" text-anchor="middle" >6</text>
<text x="1821.2" y="212.1" font-size="19.8" text-anchor="middle" >7</text>
<text x="1542.7" y="241.0" font-size="19.8" text-anchor="end" >0</text>
<text x="1542.7" y="364.8" font-size="19.8" text-anchor="end" >100</text>
<text x="1542.7" y="487.3" font-size="19.8" text-anchor="end" >200</text>
<text x="1699.5" y="177.9" font-size="22.8" text-anchor="middle" font-weight="bold" textLength="38.0" lengthAdjust="spacingAndGlyphs" >nM</text>
<clipPath id="c7"><rect x="1560.2" y="234.6" width="279.7" height="246.4"/></clipPath>
<g clip-path="url(#c7)">
<line x1="1573.6" y1="250.0" x2="1615.8" y2="250.0" stroke="#000" stroke-width="1.3" />
<line x1="1573.6" y1="243.5" x2="1573.6" y2="256.5" stroke="#000" stroke-width="1.3" />
<line x1="1615.8" y1="243.5" x2="1615.8" y2="256.5" stroke="#000" stroke-width="1.3" />
<line x1="1646.9" y1="250.0" x2="1721.2" y2="250.0" stroke="#000" stroke-width="1.3" />
<line x1="1646.9" y1="243.5" x2="1646.9" y2="256.5" stroke="#000" stroke-width="1.3" />
<line x1="1721.2" y1="243.5" x2="1721.2" y2="256.5" stroke="#000" stroke-width="1.3" />
<line x1="1571.1" y1="284.0" x2="1689.1" y2="284.0" stroke="#000" stroke-width="1.3" />
<line x1="1571.1" y1="277.5" x2="1571.1" y2="290.5" stroke="#000" stroke-width="1.3" />
<line x1="1614.5" y1="277.5" x2="1614.5" y2="290.5" stroke="#000" stroke-width="1.3" />
<line x1="1689.1" y1="277.5" x2="1689.1" y2="290.5" stroke="#000" stroke-width="1.3" />
<line x1="1579.2" y1="331.0" x2="1664.3" y2="331.0" stroke="#000" stroke-width="1.3" />
<line x1="1579.2" y1="324.5" x2="1579.2" y2="337.5" stroke="#000" stroke-width="1.3" />
<line x1="1589.8" y1="324.5" x2="1589.8" y2="337.5" stroke="#000" stroke-width="1.3" />
<line x1="1664.3" y1="324.5" x2="1664.3" y2="337.5" stroke="#000" stroke-width="1.3" />
<line x1="1593.3" y1="389.0" x2="1674.4" y2="389.0" stroke="#000" stroke-width="1.3" />
<line x1="1593.3" y1="382.5" x2="1593.3" y2="395.5" stroke="#000" stroke-width="1.3" />
<line x1="1599.4" y1="382.5" x2="1599.4" y2="395.5" stroke="#000" stroke-width="1.3" />
<line x1="1674.4" y1="382.5" x2="1674.4" y2="395.5" stroke="#000" stroke-width="1.3" />
<line x1="1593.3" y1="478.6" x2="1593.3" y2="483.4" stroke="#000" stroke-width="1.3" />
<line x1="1653.7" y1="478.6" x2="1653.7" y2="483.4" stroke="#000" stroke-width="1.3" />
<line x1="1666.8" y1="478.6" x2="1666.8" y2="483.4" stroke="#000" stroke-width="1.3" />
<polyline points="1683.5,248.8 1652.7,282.9 1628.0,330.1 1636.8,388.2 1631.0,483.0" fill="none" stroke="#000" stroke-width="6.3" stroke-linecap="round" stroke-linejoin="round" stroke-dasharray="0.01 13.05" stroke-dashoffset="-1.30"/>
<polyline points="1594.3,250.0 1591.3,284.1 1600.6,330.9 1612.5,389.0 1622.5,483.0" fill="none" stroke="#000" stroke-width="5.2" stroke-linejoin="round" stroke-linecap="round"/>
<polygon points="1676.0,248.8 1682.7,242.1 1689.5,248.8 1682.7,255.6" fill="#000"/>
<polygon points="1645.2,282.9 1651.9,276.1 1658.7,282.9 1651.9,289.6" fill="#000"/>
<polygon points="1620.5,330.1 1627.2,323.4 1634.0,330.1 1627.2,336.9" fill="#000"/>
<polygon points="1629.2,388.2 1636.0,381.4 1642.8,388.2 1636.0,394.9" fill="#000"/>
<rect x="1587.9" y="243.6" width="12.8" height="12.8" fill="#000"/>
<rect x="1584.9" y="277.7" width="12.8" height="12.8" fill="#000"/>
<rect x="1594.2" y="324.5" width="12.8" height="12.8" fill="#000"/>
<rect x="1606.1" y="382.6" width="12.8" height="12.8" fill="#000"/>
</g>
<line x1="1562.5" y1="510.8" x2="1562.5" y2="1066.7" stroke="#6a6a6a" stroke-width="1.2" />
<line x1="1555.5" y1="510.5" x2="1562.0" y2="510.5" stroke="#6a6a6a" stroke-width="1.2" />
<text x="1543.2" y="518.3" font-size="19.8" text-anchor="end" >200</text>
<line x1="1555.5" y1="643.5" x2="1562.0" y2="643.5" stroke="#6a6a6a" stroke-width="1.2" />
<text x="1543.2" y="650.5" font-size="19.8" text-anchor="end" >700</text>
<line x1="1555.5" y1="775.5" x2="1562.0" y2="775.5" stroke="#6a6a6a" stroke-width="1.2" />
<text x="1543.2" y="782.6" font-size="19.8" text-anchor="end" >1200</text>
<line x1="1555.5" y1="907.5" x2="1562.0" y2="907.5" stroke="#6a6a6a" stroke-width="1.2" />
<text x="1543.2" y="914.6" font-size="19.8" text-anchor="end" >1700</text>
<line x1="1555.5" y1="1039.5" x2="1562.0" y2="1039.5" stroke="#6a6a6a" stroke-width="1.2" />
<text x="1543.2" y="1047.2" font-size="19.8" text-anchor="end" >2200</text>
<line x1="1593.3" y1="511.6" x2="1667.6" y2="511.6" stroke="#000" stroke-width="1.3" />
<line x1="1593.3" y1="505.1" x2="1593.3" y2="518.1" stroke="#000" stroke-width="1.3" />
<line x1="1654.5" y1="505.1" x2="1654.5" y2="518.1" stroke="#000" stroke-width="1.3" />
<line x1="1667.6" y1="505.1" x2="1667.6" y2="518.1" stroke="#000" stroke-width="1.3" />
<line x1="1602.7" y1="550.2" x2="1661.3" y2="550.2" stroke="#000" stroke-width="1.3" />
<line x1="1602.7" y1="543.7" x2="1602.7" y2="556.7" stroke="#000" stroke-width="1.3" />
<line x1="1661.3" y1="543.7" x2="1661.3" y2="556.7" stroke="#000" stroke-width="1.3" />
<line x1="1677.7" y1="550.2" x2="1754.0" y2="550.2" stroke="#000" stroke-width="1.3" />
<line x1="1677.7" y1="543.7" x2="1677.7" y2="556.7" stroke="#000" stroke-width="1.3" />
<line x1="1754.0" y1="543.7" x2="1754.0" y2="556.7" stroke="#000" stroke-width="1.3" />
<line x1="1576.6" y1="643.0" x2="1734.0" y2="643.0" stroke="#000" stroke-width="1.3" />
<line x1="1576.6" y1="636.5" x2="1576.6" y2="649.5" stroke="#000" stroke-width="1.3" />
<line x1="1606.5" y1="636.5" x2="1606.5" y2="649.5" stroke="#000" stroke-width="1.3" />
<line x1="1680.7" y1="636.5" x2="1680.7" y2="649.5" stroke="#000" stroke-width="1.3" />
<line x1="1734.0" y1="636.5" x2="1734.0" y2="649.5" stroke="#000" stroke-width="1.3" />
<line x1="1609.0" y1="722.5" x2="1683.3" y2="722.5" stroke="#000" stroke-width="1.3" />
<line x1="1609.0" y1="716.0" x2="1609.0" y2="729.0" stroke="#000" stroke-width="1.3" />
<line x1="1654.5" y1="716.0" x2="1654.5" y2="729.0" stroke="#000" stroke-width="1.3" />
<line x1="1683.3" y1="716.0" x2="1683.3" y2="729.0" stroke="#000" stroke-width="1.3" />
<line x1="1639.3" y1="854.5" x2="1778.3" y2="854.5" stroke="#000" stroke-width="1.3" />
<line x1="1639.3" y1="848.0" x2="1639.3" y2="861.0" stroke="#000" stroke-width="1.3" />
<line x1="1644.1" y1="848.0" x2="1644.1" y2="861.0" stroke="#000" stroke-width="1.3" />
<line x1="1718.1" y1="848.0" x2="1718.1" y2="861.0" stroke="#000" stroke-width="1.3" />
<line x1="1778.3" y1="848.0" x2="1778.3" y2="861.0" stroke="#000" stroke-width="1.3" />
<line x1="1562.0" y1="1052.9" x2="1841.2" y2="1052.9" stroke="#000" stroke-width="1.3" />
<line x1="1649.4" y1="1046.4" x2="1649.4" y2="1059.4" stroke="#000" stroke-width="1.3" />
<line x1="1723.9" y1="1046.4" x2="1723.9" y2="1059.4" stroke="#000" stroke-width="1.3" />
<polyline points="1630.6,510.8 1715.2,549.5 1642.0,641.7 1645.7,722.0 1680.4,854.0 1686.7,1052.1" fill="none" stroke="#000" stroke-width="6.3" stroke-linecap="round" stroke-linejoin="round" stroke-dasharray="0.01 13.05" stroke-dashoffset="-7.20"/>
<polyline points="1623.4,511.6 1631.7,550.2 1654.0,643.0 1630.2,722.7 1708.8,854.5 1762.3,1052.9" fill="none" stroke="#000" stroke-width="5.2" stroke-linejoin="round" stroke-linecap="round"/>
<polygon points="1622.5,510.8 1629.2,504.1 1636.0,510.8 1629.2,517.5" fill="#000"/>
<polygon points="1707.0,549.5 1713.8,542.8 1720.5,549.5 1713.8,556.2" fill="#000"/>
<polygon points="1633.8,641.7 1640.6,635.0 1647.3,641.7 1640.6,648.5" fill="#000"/>
<polygon points="1637.5,722.0 1644.3,715.2 1651.0,722.0 1644.3,728.8" fill="#000"/>
<polygon points="1672.2,854.0 1679.0,847.2 1685.8,854.0 1679.0,860.8" fill="#000"/>
<polygon points="1678.5,1052.1 1685.3,1045.3 1692.0,1052.1 1685.3,1058.8" fill="#000"/>
<rect x="1617.0" y="505.2" width="12.8" height="12.8" fill="#000"/>
<rect x="1625.3" y="543.8" width="12.8" height="12.8" fill="#000"/>
<rect x="1647.6" y="636.6" width="12.8" height="12.8" fill="#000"/>
<rect x="1623.8" y="716.3" width="12.8" height="12.8" fill="#000"/>
<rect x="1702.4" y="848.1" width="12.8" height="12.8" fill="#000"/>
<rect x="1755.9" y="1046.5" width="12.8" height="12.8" fill="#000"/>
<text x="1482.0" y="788.0" font-size="23.2" text-anchor="middle" font-weight="bold" textLength="113.0" lengthAdjust="spacingAndGlyphs" transform="rotate(-90 1482.0 788.0)" >depth (m)</text>
<line x1="1564.6" y1="1163.5" x2="1838.9" y2="1163.5" stroke="#727272" stroke-width="1.15" />
<line x1="1574.5" y1="1154.9" x2="1574.5" y2="1387.6" stroke="#727272" stroke-width="1.15" />
<line x1="1649.5" y1="1154.9" x2="1649.5" y2="1163.9" stroke="#727272" stroke-width="1.15" />
<line x1="1724.5" y1="1154.9" x2="1724.5" y2="1163.9" stroke="#727272" stroke-width="1.15" />
<line x1="1800.5" y1="1154.9" x2="1800.5" y2="1163.9" stroke="#727272" stroke-width="1.15" />
<line x1="1564.6" y1="1304.5" x2="1574.1" y2="1304.5" stroke="#727272" stroke-width="1.15" />
<text x="1574.1" y="1135.6" font-size="24.2" text-anchor="middle" >0</text>
<text x="1649.4" y="1135.6" font-size="24.2" text-anchor="middle" >20</text>
<text x="1724.9" y="1135.6" font-size="24.2" text-anchor="middle" >40</text>
<text x="1800.2" y="1135.6" font-size="24.2" text-anchor="middle" >60</text>
<text x="1550.3" y="1170.7" font-size="24.2" text-anchor="end" textLength="55.5" lengthAdjust="spacingAndGlyphs" >2240</text>
<text x="1550.3" y="1311.4" font-size="24.2" text-anchor="end" textLength="55.5" lengthAdjust="spacingAndGlyphs" >2740</text>
<clipPath id="c8"><rect x="1574.1" y="1163.9" width="274.8" height="243.7"/></clipPath>
<g clip-path="url(#c8)">
<line x1="1593.0" y1="1166.9" x2="1615.5" y2="1166.9" stroke="#000" stroke-width="1.4" />
<line x1="1615.5" y1="1160.7" x2="1615.5" y2="1173.1" stroke="#000" stroke-width="1.4" />
<line x1="1574.1" y1="1377.5" x2="1806.5" y2="1377.5" stroke="#000" stroke-width="1.4" />
<line x1="1806.5" y1="1371.3" x2="1806.5" y2="1383.7" stroke="#000" stroke-width="1.4" />
</g>
<polyline points="1585.6,1166.7 1590.1,1377.0" fill="none" stroke="#000" stroke-width="6.4" stroke-linecap="round" stroke-linejoin="round" stroke-dasharray="0.01 13" stroke-dashoffset="-8.20"/>
<polyline points="1593.1,1166.7 1689.8,1377.5" fill="none" stroke="#000" stroke-width="5.6" stroke-linejoin="round" stroke-linecap="round"/>
<polygon points="1574.1,1166.7 1585.5,1155.3 1596.9,1166.7 1585.5,1178.1" fill="#000"/>
<polygon points="1578.6,1377.0 1590.0,1365.6 1601.4,1377.0 1590.0,1388.4" fill="#000"/>
<rect x="1582.2" y="1155.8" width="21.8" height="21.8" fill="#000"/>
<rect x="1678.9" y="1366.6" width="21.8" height="21.8" fill="#000"/>
<polyline points="745.4,398.8 812.3,398.8" fill="none" stroke="#000" stroke-width="6.3" stroke-linecap="round" stroke-linejoin="round" stroke-dasharray="0.01 13.05" stroke-dashoffset="0.00"/>
<polygon points="772.5,398.8 779.2,392.1 786.0,398.8 779.2,405.6" fill="#000"/>
<text x="821.5" y="407.2" font-size="24.5" text-anchor="start" textLength="66.5" lengthAdjust="spacingAndGlyphs" >spring</text>
<polyline points="746.5,483.0 812.5,483.0" fill="none" stroke="#000" stroke-width="5.2" stroke-linejoin="round" stroke-linecap="round"/>
<rect x="773.1" y="476.6" width="12.8" height="12.8" fill="#000"/>
<text x="821.5" y="490.5" font-size="24.5" text-anchor="start" textLength="90.0" lengthAdjust="spacingAndGlyphs" >summer</text>
</svg>
</body>
</html>
